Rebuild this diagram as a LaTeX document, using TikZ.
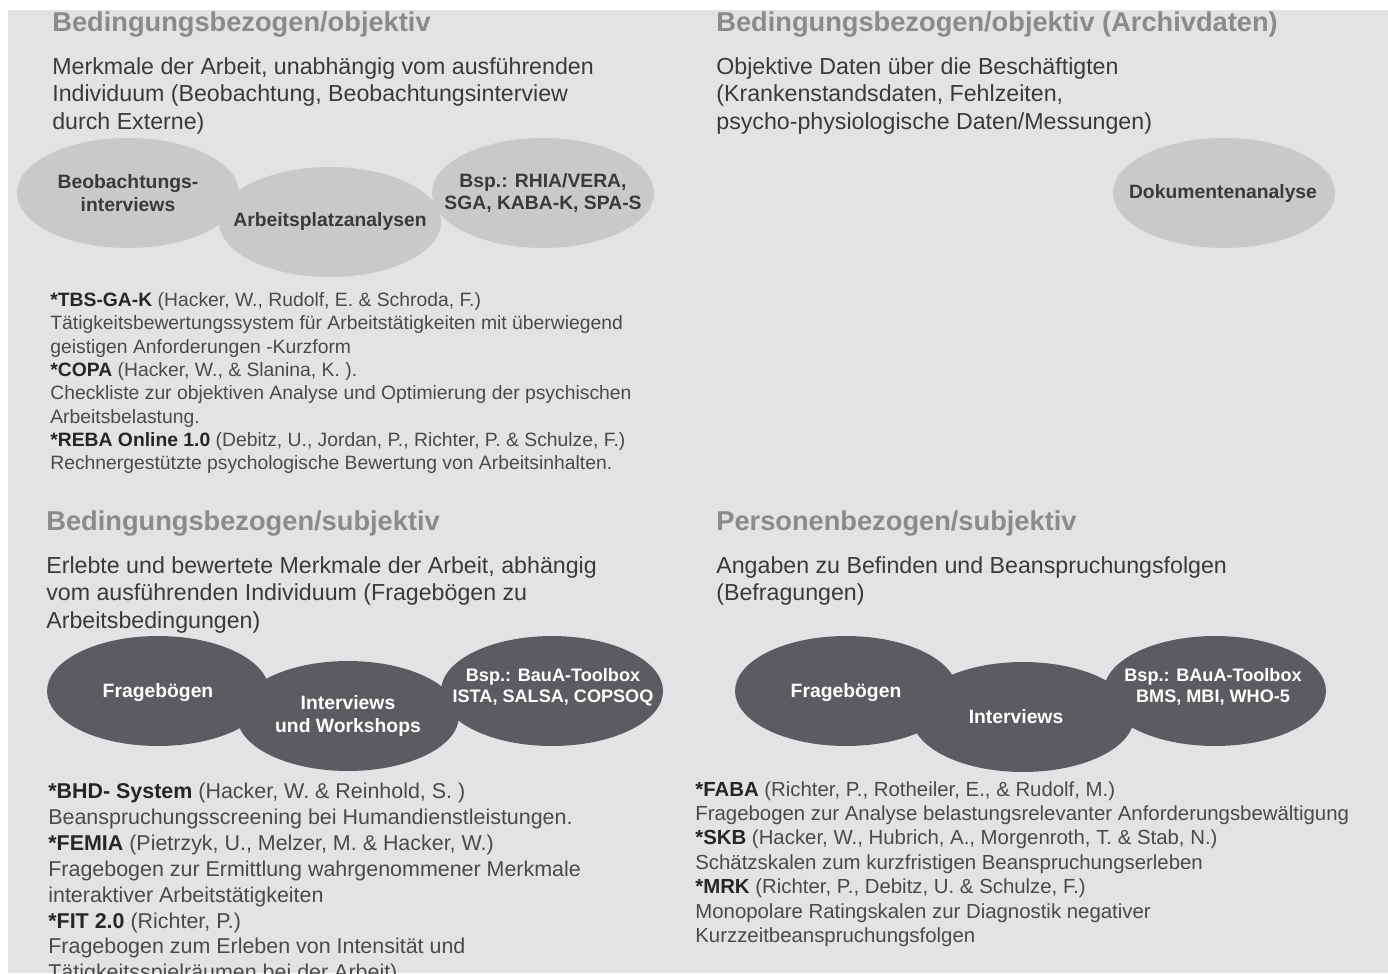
\documentclass[tikz,border=0pt]{standalone}
\usepackage{fontspec}
\setmainfont{Liberation Sans}
\usepackage{xcolor}
\usetikzlibrary{shapes.geometric,positioning}
\definecolor{paper}{HTML}{E2E3E5}
\definecolor{lightblob}{HTML}{C8C9CB}
\definecolor{darkblob}{HTML}{5B5C5F}
\definecolor{headgrey}{HTML}{8A8B8D}
\definecolor{bodygrey}{HTML}{3A3A3C}
\definecolor{refgrey}{HTML}{4A4A4C}
\definecolor{tooldark}{HTML}{262628}
\newcommand\BlobW{4.44cm}
\newcommand\BlobH{2.2cm}
\newcommand\Tool[1]{{\bfseries\color{tooldark}#1}}
\tikzset{
  blob/.style={
    shape = ellipse,
    fill = lightblob,
    minimum width = \BlobW,
    minimum height = \BlobH,
    inner sep = 0pt
  },
  darkblob/.style={
    blob,
    fill = darkblob
  },
  blobtext/.style={
    inner sep = 0pt,
    align = center,
    text = bodygrey,
    font = \fontsize{11}{13}\selectfont\bfseries
  },
  darkblobtext/.style={
    blobtext,
    text = white
  },
}
\tikzset{
  heading/.style={
    anchor = base west,
    inner sep = 0pt,
    text = headgrey,
    font = \fontsize{15.5}{18}\selectfont\bfseries
  },
  intro/.style={
    anchor = north west,
    inner sep = 0pt,
    align = left,
    text = bodygrey,
    font = \fontsize{13.2}{15.8}\selectfont
  },
  refs/.style={
    anchor = north west,
    inner sep = 0pt,
    align = left,
    text = refgrey
  },
}
\begin{document}
\begin{tikzpicture}[x=0.02cm, y=-0.02cm]
    \useasboundingbox (0,0) rectangle (1388,973);
    \fill[paper] (8,10) rectangle (1388,973);

    % oben links
    \node[heading] (hTL) at (52,32) {Bedingungsbezogen/objektiv};
    \node[intro] (iTL) at (52,57) {Merkmale der Arbeit, unabhängig vom ausführenden\\Individuum (Beobachtung, Beobachtungsinterview\\durch Externe)};
    \node[blob] (beob) at (128,193) {};
    \node[blob] (apa) at (330,222) {};
    \node[blob] (bspTL) at (543,193) {};
    \node[blobtext] (tBeob) at (beob) {Beobachtungs-\\interviews};
    \node[blobtext] (tApa) at (apa) {Arbeitsplatzanalysen};
    \node[blobtext] (tBspTL) at (bspTL) {Bsp.: RHIA/VERA,\\SGA, KABA-K, SPA-S};
    \node[refs, font=\fontsize{11}{13.3}\selectfont] (rTL) at (50,292) {\Tool{*TBS-GA-K} (Hacker, W., Rudolf, E. \& Schroda, F.)\\
      Tätigkeitsbewertungssystem für Arbeitstätigkeiten mit überwiegend\\
      geistigen Anforderungen -Kurzform\\
      \Tool{*COPA} (Hacker, W., \& Slanina, K. ).\\
      Checkliste zur objektiven Analyse und Optimierung der psychischen\\
      Arbeitsbelastung.\\
      \Tool{*REBA Online 1.0} (Debitz, U., Jordan, P., Richter, P. \& Schulze, F.)\\
      Rechnergestützte psychologische Bewertung von Arbeitsinhalten.};

    % oben rechts
    \node[heading] (hTR) at (716,32) {Bedingungsbezogen/objektiv (Archivdaten)};
    \node[intro] (iTR) at (716,57) {Objektive Daten über die Beschäftigten\\(Krankenstandsdaten, Fehlzeiten,\\psycho-physiologische Daten/Messungen)};
    \node[blob] (doku) at (1224,193) {};
    \node[blobtext] (tDoku) at (1223,194) {Dokumentenanalyse};

    % unten links
    \node[heading] (hBL) at (46,530) {Bedingungsbezogen/subjektiv};
    \node[intro] (iBL) at (46,556) {Erlebte und bewertete Merkmale der Arbeit, abhängig\\vom ausführenden Individuum (Fragebögen zu\\Arbeitsbedingungen)};
    \node[darkblob] (frageBL) at (158,691) {};
    \node[darkblob] (interBL) at (348,716) {};
    \node[darkblob] (bspBL) at (552,691) {};
    \node[darkblobtext] (tFrageBL) at (158,693) {Fragebögen};
    \node[darkblobtext] (tInterBL) at (348,716) {Interviews\\und Workshops};
    \node[darkblobtext, font=\fontsize{10.3}{11.8}\selectfont\bfseries] (tBspBL) at (553,687) {Bsp.: BauA-Toolbox\\ISTA, SALSA, COPSOQ};
    \node[refs, font=\fontsize{12.2}{14.7}\selectfont] (rBL) at (48,783) {\Tool{*BHD- System} (Hacker, W. \& Reinhold, S. )\\
      Beanspruchungsscreening bei Humandienstleistungen.\\
      \Tool{*FEMIA} (Pietrzyk, U., Melzer, M. \& Hacker, W.)\\
      Fragebogen zur Ermittlung wahrgenommener Merkmale\\
      interaktiver Arbeitstätigkeiten\\
      \Tool{*FIT 2.0} (Richter, P.)\\
      Fragebogen zum Erleben von Intensität und\\
      Tätigkeitsspielräumen bei der Arbeit)};

    % unten rechts
    \node[heading] (hBR) at (716,530) {Personenbezogen/subjektiv};
    \node[intro] (iBR) at (716,556) {Angaben zu Befinden und Beanspruchungsfolgen\\(Befragungen)};
    \node[darkblob] (frageBR) at (846,691) {};
    \node[darkblob] (interBR) at (1023,717) {};
    \node[darkblob] (bspBR) at (1215,691) {};
    \node[darkblobtext] (tFrageBR) at (846,693) {Fragebögen};
    \node[darkblobtext] (tInterBR) at (1016,717) {Interviews};
    \node[darkblobtext, font=\fontsize{10.3}{11.8}\selectfont\bfseries] (tBspBR) at (1213,687) {Bsp.: BAuA-Toolbox\\BMS, MBI, WHO-5};
    \node[refs, font=\fontsize{11.6}{13.9}\selectfont] (rBR) at (695,781) {\Tool{*FABA} (Richter, P., Rotheiler, E., \& Rudolf, M.)\\
      Fragebogen zur Analyse belastungsrelevanter Anforderungsbewältigung\\
      \Tool{*SKB} (Hacker, W., Hubrich, A., Morgenroth, T. \& Stab, N.)\\
      Schätzskalen zum kurzfristigen Beanspruchungserleben\\
      \Tool{*MRK} (Richter, P., Debitz, U. \& Schulze, F.)\\
      Monopolare Ratingskalen zur Diagnostik negativer\\
      Kurzzeitbeanspruchungsfolgen};
\end{tikzpicture}
\end{document}
